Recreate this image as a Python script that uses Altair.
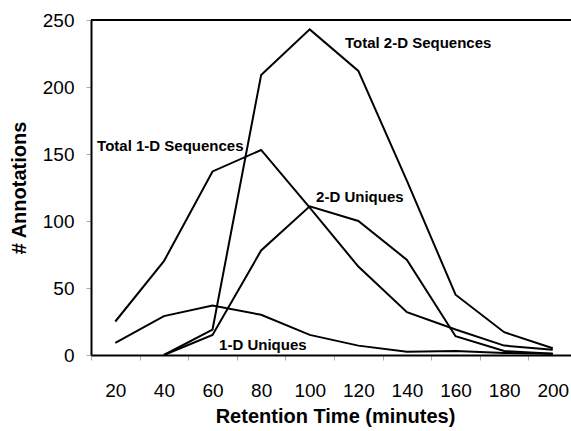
import altair as alt
import pandas as pd

times = [20, 40, 60, 80, 100, 120, 140, 160, 180, 200]
total_1d = [25, 70, 137, 153, 110, 66, 32, 19, 7, 4]
unique_1d = [9, 29, 37, 30, 15, 7, 2.5, 3, 1.5, 1]
total_2d = [None, 0, 19, 209, 243, 212, 130, 45, 17, 5]
unique_2d = [None, 0, 15, 78, 111, 100, 71, 14, 3, 1]

series_names = ["Total 1-D Sequences", "1-D Uniques", "Total 2-D Sequences", "2-D Uniques"]
series_values = [total_1d, unique_1d, total_2d, unique_2d]

label_text = ["Total 2-D Sequences", "Total 1-D Sequences", "2-D Uniques", "1-D Uniques"]
label_x = [114.5, 12.5, 102.6, 62.7]
label_y = [233, 156, 118, 7.5]

rows = []
for name, vals in zip(series_names, series_values):
    for t, v in zip(times, vals):
        if v is not None:
            rows.append({"time": t, "value": v, "series": name})
df = pd.DataFrame(rows)
ann = pd.DataFrame({"label": label_text, "x": label_x, "y": label_y})

FONT = "Liberation Sans"
xscale = alt.Scale(domain=[10, 207.5], nice=False, zero=False)
yscale = alt.Scale(domain=[0, 250], nice=False)

lines = alt.Chart(df).mark_line(color="black", strokeWidth=2, strokeJoin="miter").encode(
    x=alt.X("time:Q", scale=xscale, axis=alt.Axis(
        values=times, tickOffset=-24.3, labelOffset=24.3, tickSize=5,
        tickColor="#aaaaaa", tickWidth=1, domainColor="black", domainWidth=2,
        labelFont=FONT, labelFontSize=19, labelColor="black", labelPadding=30,
        labelBaseline="middle", grid=False, labelFlush=False,
        title="Retention Time (minutes)", titleFont=FONT, titleFontSize=20,
        titleFontWeight="bold", titleColor="black", titleX=244, titleY=61,
        titleBaseline="middle", titleAlign="center")),
    y=alt.Y("value:Q", scale=yscale, axis=alt.Axis(
        values=[0, 50, 100, 150, 200, 250], tickSize=5, tickColor="#aaaaaa",
        tickWidth=1, domainColor="black", domainWidth=2, labelFont=FONT,
        labelFontSize=19, labelColor="black", labelPadding=12, grid=False,
        labelFlush=False,
        title="# Annotations", titleFont=FONT, titleFontSize=20,
        titleFontWeight="bold", titleColor="black", titleX=-72, titleY=167.5,
        titleAngle=270, titleAlign="center", titleBaseline="middle")),
    detail="series:N",
)

texts = alt.Chart(ann).mark_text(
    align="left", baseline="middle", fontSize=15, fontWeight="bold", font=FONT, color="black"
).encode(
    x=alt.X("x:Q", scale=xscale),
    y=alt.Y("y:Q", scale=yscale),
    text="label:N",
)

frame = alt.Chart(pd.DataFrame({"a": [0]})).mark_rule(color="black", strokeWidth=2).encode(
    y=alt.datum(250)
)

chart = alt.layer(lines, texts, frame).properties(
    width=480, height=335,
    autosize="none",
    padding={"left": 91, "top": 20, "right": 0, "bottom": 76},
    background="white",
).configure_view(stroke=None)

chart.save("out.html", embed_options={"renderer": "svg", "actions": False})
